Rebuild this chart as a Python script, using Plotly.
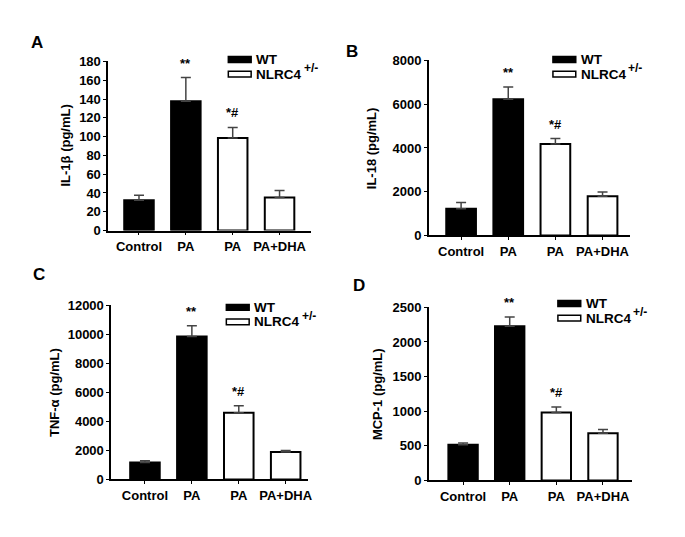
import plotly.graph_objects as go

W, H = 685, 537

# ---- data ----
categories = ["Control", "PA", "PA", "PA+DHA"]
groups = ["WT", "WT", "NLRC4", "NLRC4"]

il1b_mean = [32.3, 137.6, 98.4, 35.1]
il1b_err = [5.2, 25.2, 11.4, 7.6]
il18_mean = [1215, 6222, 4178, 1793]
il18_err = [296, 563, 252, 192]
tnf_mean = [1162, 9855, 4603, 1899]
tnf_err = [134, 737, 470, 90]
mcp1_mean = [514, 2229, 981, 682]
mcp1_err = [28, 131, 80, 52]

y_titles = ["IL-1β (pg/mL)", "IL-18 (pg/mL)", "TNF-α (pg/mL)", "MCP-1 (pg/mL)"]
y_tops = [180, 8000, 12000, 2500]
y_steps = [20, 2000, 2000, 500]
panel_letters = ["A", "B", "C", "D"]
sig_labels = ["", "**", "*#", ""]

means = [il1b_mean, il18_mean, tnf_mean, mcp1_mean]
errs = [il1b_err, il18_err, tnf_err, mcp1_err]

# ---- layout (pixels) ----
boxes = [
    dict(l=109, r=313, t=56, b=230, xr=[-0.657, 3.665], yt=65, letter=(37, 37), leg=(230, 54)),
    dict(l=432, r=635, t=55, b=235, xr=[-0.684, 3.59], yt=375, letter=(355, 46), leg=(557, 54)),
    dict(l=112, r=310, t=307, b=486, xr=[-0.72, 3.47], yt=55, letter=(39, 275), leg=(228, 309)),
    dict(l=432, r=637, t=309, b=487, xr=[-0.734, 3.63], yt=381, letter=(362, 287), leg=(562, 305)),
]

def px(x):
    return x / W

def py(y):
    return 1 - y / H

FONT = "Liberation Sans, Arial, sans-serif"

fig = go.Figure()
annotations = []
shapes = []
xpos = [0, 1, 2, 3]

for i in range(4):
    b = boxes[i]
    sfx = "" if i == 0 else str(i + 1)
    xa = "x" + sfx
    ya = "y" + sfx
    m = means[i]
    e = errs[i]
    for grp, fill in (("WT", "black"), ("NLRC4", "white")):
        idx = [k for k in range(4) if groups[k] == grp]
        fig.add_trace(go.Bar(
            x=[xpos[k] for k in idx], y=[m[k] for k in idx],
            width=0.63,
            marker=dict(color=fill, line=dict(color="black", width=2)),
            error_y=dict(type="data", symmetric=False,
                         array=[e[k] for k in idx], arrayminus=[0] * len(idx),
                         color="#444444", thickness=1.5, width=5),
            xaxis=xa, yaxis=ya, showlegend=False,
        ))
    fig.layout["xaxis" + sfx] = dict(
        domain=[px(b["l"]), px(b["r"])], range=b["xr"], anchor=ya,
        tickmode="array", tickvals=xpos, ticktext=categories,
        showline=True, linecolor="black", linewidth=1.5,
        ticks="outside", ticklen=3, tickcolor="black", tickwidth=1,
        showgrid=False, zeroline=False,
        tickfont=dict(family=FONT, size=13, color="black", weight="bold"),
    )
    fig.layout["yaxis" + sfx] = dict(
        domain=[py(b["b"]), py(b["t"])], range=[0, y_tops[i]], anchor=xa,
        tickmode="linear", tick0=0, dtick=y_steps[i], tickformat="d",
        showline=True, linecolor="black", linewidth=1.5,
        ticks="outside", ticklen=3, tickcolor="black", tickwidth=1,
        showgrid=False, zeroline=False,
        tickfont=dict(family=FONT, size=13, color="black", weight="bold"),
    )
    annotations.append(dict(
        x=px(b["yt"]), y=py((b["t"] + b["b"]) / 2), xref="paper", yref="paper",
        text=y_titles[i], textangle=-90, showarrow=False,
        font=dict(family=FONT, size=13, color="black", weight="bold"),
        xanchor="center", yanchor="middle"))
    annotations.append(dict(
        x=px(b["letter"][0]), y=py(b["letter"][1]), xref="paper", yref="paper",
        text=panel_letters[i], showarrow=False,
        font=dict(family=FONT, size=17, color="black", weight="bold"),
        xanchor="center", yanchor="middle"))
    for k in range(4):
        if sig_labels[k]:
            annotations.append(dict(
                x=xpos[k], y=m[k] + e[k], xref=xa, yref=ya,
                text=sig_labels[k], showarrow=False, yanchor="bottom",
                yshift=5,
                font=dict(family=FONT, size=13, color="black", weight="bold")))
    lx, ly = b["leg"]
    for j, (lab, fill) in enumerate((("WT", "black"), ("NLRC4", "white"))):
        cy = ly + j * 15
        shapes.append(dict(type="rect", xref="paper", yref="paper",
                           x0=px(lx), x1=px(lx + 23), y0=py(cy - 3), y1=py(cy + 3),
                           fillcolor=fill, line=dict(color="black", width=1.5)))
        annotations.append(dict(
            x=px(lx + 26), y=py(cy), xref="paper", yref="paper",
            text=lab, showarrow=False, xanchor="left", yanchor="middle",
            font=dict(family=FONT, size=13.5, color="black", weight="bold")))
    annotations.append(dict(
        x=px(lx + 74), y=py(ly + 15 - 6), xref="paper", yref="paper",
        text="+/-", showarrow=False, xanchor="left", yanchor="middle",
        font=dict(family=FONT, size=12, color="black", weight="bold")))

fig.update_layout(
    width=W, height=H, margin=dict(l=0, r=0, t=0, b=0),
    paper_bgcolor="white", plot_bgcolor="white",
    barmode="overlay", showlegend=False,
    annotations=annotations, shapes=shapes,
)

fig.write_html("out.html", config={"displayModeBar": False},
               post_script="document.body.style.margin='0';")
